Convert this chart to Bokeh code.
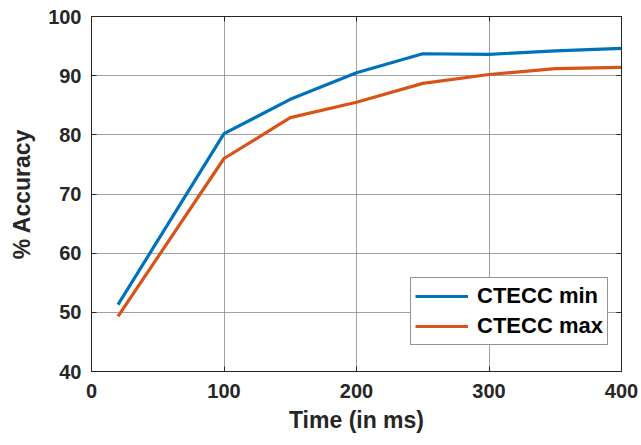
from bokeh.plotting import figure
from bokeh.models import Range1d, FixedTicker, LinearAxis, Legend, LegendItem
from bokeh.embed import file_html
from bokeh.resources import INLINE

time_ms = [20, 100, 150, 200, 250, 300, 350, 400]
ctecc_min = [51.3, 80.2, 86.0, 90.5, 93.7, 93.6, 94.2, 94.6]
ctecc_max = [49.3, 76.0, 82.9, 85.5, 88.7, 90.2, 91.2, 91.4]
x_ticks = [0, 100, 200, 300, 400]
y_ticks = [40, 50, 60, 70, 80, 90, 100]

FONT = "Liberation Sans"
TXT = "#262626"

p = figure(width=641, height=445, output_backend="svg", toolbar_location=None,
           x_range=Range1d(0, 400), y_range=Range1d(40, 100),
           min_border_left=91, min_border_right=20, min_border_top=16, min_border_bottom=74)
p.background_fill_color = "white"
p.border_fill_color = "white"
p.outline_line_color = TXT
p.outline_line_width = 1

for ax in (p.xaxis[0], p.yaxis[0]):
    ax.major_label_text_font = FONT
    ax.major_label_text_font_style = "bold"
    ax.major_label_text_font_size = "20px"
    ax.major_label_text_color = TXT
    ax.axis_label_text_font = FONT
    ax.axis_label_text_font_style = "bold"
    ax.axis_label_text_font_size = "23px"
    ax.axis_label_text_color = TXT
    ax.axis_line_color = TXT
    ax.major_tick_in = 5
    ax.major_tick_out = 0
    ax.major_tick_line_color = TXT
    ax.minor_tick_line_color = None

p.xaxis[0].ticker = FixedTicker(ticks=x_ticks)
p.yaxis[0].ticker = FixedTicker(ticks=y_ticks)
p.xaxis[0].axis_label = "Time (in ms)"
p.yaxis[0].axis_label = "% Accuracy"
p.xaxis[0].axis_label_standoff = 6
p.yaxis[0].axis_label_standoff = 10
p.xaxis[0].major_label_standoff = 12
p.yaxis[0].major_label_standoff = 10

for loc, tk in (("right", y_ticks), ("above", x_ticks)):
    a = LinearAxis(ticker=FixedTicker(ticks=tk),
                   major_label_overrides={t: "" for t in tk},
                   axis_line_color=TXT, major_tick_in=5, major_tick_out=0,
                   major_tick_line_color=TXT, minor_tick_line_color=None)
    a.major_label_standoff = 0
    p.add_layout(a, loc)

p.grid.grid_line_color = "#808080"
p.grid.grid_line_alpha = 0.75
p.xgrid.ticker = FixedTicker(ticks=x_ticks)
p.ygrid.ticker = FixedTicker(ticks=y_ticks)

r1 = p.line(time_ms, ctecc_min, line_color="#0072BD", line_width=3.2)
r2 = p.line(time_ms, ctecc_max, line_color="#D95319", line_width=3.2)

legend = Legend(items=[LegendItem(label="CTECC min", renderers=[r1]),
                       LegendItem(label="CTECC max", renderers=[r2])],
                location=(319, 26))
legend.label_text_font = FONT
legend.label_text_font_style = "bold"
legend.label_text_font_size = "22px"
legend.label_text_color = "black"
legend.glyph_width = 53
legend.glyph_height = 28
legend.label_height = 28
legend.spacing = 2
legend.padding = 4
legend.margin = 0
legend.label_standoff = 9
legend.border_line_color = TXT
legend.border_line_width = 1
legend.background_fill_color = "white"
legend.background_fill_alpha = 1
p.add_layout(legend, "center")

open("out.html", "w").write(file_html(p, INLINE))
